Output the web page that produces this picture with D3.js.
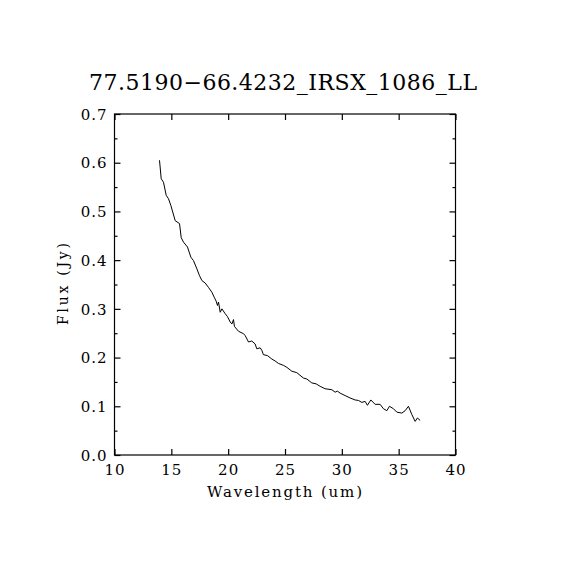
<!DOCTYPE html>
<html>
<head>
<meta charset="utf-8">
<script src="https://cdn.jsdelivr.net/npm/d3@7"></script>
<style>
  html, body { margin: 0; padding: 0; background: #fff; }
  svg { display: block; }
  text { font-family: "DejaVu Serif", "Liberation Serif", serif; fill: #000; }
</style>
</head>
<body>
<svg id="chart" width="570" height="570"></svg>
<script>
const title = "77.5190\u221266.4232_IRSX_1086_LL";
const xLabel = "Wavelength (um)";
const yLabel = "Flux (Jy)";
const xTicks = [10, 15, 20, 25, 30, 35, 40];
const yTicks = [0.0, 0.1, 0.2, 0.3, 0.4, 0.5, 0.6, 0.7];
const yMinorTicks = [0.05, 0.15, 0.25, 0.35, 0.45, 0.55, 0.65];

const wavelength = [13.96, 14.11, 14.31, 14.55, 14.75, 14.96, 15.34, 15.72, 15.87, 16.07,
  16.42, 16.72, 16.95, 17.25, 17.48, 17.69, 17.98, 18.27, 18.57, 18.77,
  18.94, 19.06, 19.15, 19.30, 19.45, 19.74, 19.94, 20.18, 20.33, 20.47,
  20.55, 20.91, 21.35, 21.50, 21.79, 22.08, 22.37, 22.52, 22.81, 22.96,
  23.10, 23.46, 23.84, 24.13, 24.42, 24.86, 25.16, 25.60, 26.04, 26.62,
  26.92, 27.36, 27.74, 28.09, 28.53, 29.12, 29.41, 29.61, 29.85, 30.29,
  30.73, 31.17, 31.46, 31.76, 32.05, 32.25, 32.55, 32.93, 33.37, 33.66,
  33.96, 34.19, 34.54, 34.84, 35.28, 35.57, 35.86, 36.16, 36.45, 36.65, 36.89];
const flux = [0.605, 0.567, 0.560, 0.533, 0.526, 0.512, 0.481, 0.475, 0.446, 0.437,
  0.427, 0.406, 0.399, 0.382, 0.368, 0.358, 0.353, 0.344, 0.334, 0.324,
  0.316, 0.307, 0.314, 0.293, 0.300, 0.290, 0.284, 0.273, 0.269, 0.278,
  0.264, 0.254, 0.249, 0.245, 0.232, 0.234, 0.228, 0.218, 0.220, 0.215,
  0.206, 0.204, 0.197, 0.193, 0.188, 0.184, 0.180, 0.172, 0.169, 0.158,
  0.156, 0.148, 0.146, 0.141, 0.136, 0.134, 0.129, 0.131, 0.127, 0.122,
  0.117, 0.113, 0.112, 0.108, 0.110, 0.102, 0.113, 0.104, 0.104, 0.095,
  0.091, 0.100, 0.095, 0.088, 0.086, 0.091, 0.100, 0.083, 0.069, 0.076, 0.071];

const L = 114.5, R = 455.5, T = 114, B = 455;
const svg = d3.select("#chart");
const x = d3.scaleLinear().domain([10, 40]).range([L, R]);
const y = d3.scaleLinear().domain([0, 0.7]).range([B, T]);

const g = svg.append("g");

// frame
g.append("rect").attr("x", L).attr("y", T).attr("width", R - L).attr("height", B - T)
  .attr("fill", "none").attr("stroke", "#000").attr("stroke-width", 1.2);

// axes (ticks inward)
const xb = g.append("g").attr("transform", `translate(0,${B})`)
  .call(d3.axisBottom(x).tickValues(xTicks).tickSize(-6).tickPadding(15).tickFormat(d3.format("d")));
const xt = g.append("g").attr("transform", `translate(0,${T})`)
  .call(d3.axisTop(x).tickValues(xTicks).tickSize(-6).tickFormat(""));
const yl = g.append("g").attr("transform", `translate(${L},0)`)
  .call(d3.axisLeft(y).tickValues(yTicks).tickSize(-6).tickPadding(7).tickFormat(d3.format(".1f")));
const ylm = g.append("g").attr("transform", `translate(${L},0)`)
  .call(d3.axisLeft(y).tickValues(yMinorTicks).tickSize(-3).tickFormat(""));
const yr = g.append("g").attr("transform", `translate(${R},0)`)
  .call(d3.axisRight(y).tickValues(yTicks).tickSize(-6).tickFormat(""));
const yrm = g.append("g").attr("transform", `translate(${R},0)`)
  .call(d3.axisRight(y).tickValues(yMinorTicks).tickSize(-3).tickFormat(""));

[xb, xt, yl, ylm, yr, yrm].forEach(a => {
  a.select(".domain").remove();
  a.selectAll("line").attr("stroke", "#000").attr("stroke-width", 1.2);
  a.selectAll("text").style("font-family", '"DejaVu Serif", serif').style("font-size", "15px")
    .style("letter-spacing", "1px").attr("fill", "#000");
});
xb.selectAll("text").attr("dy", "0.35em");
yl.selectAll("text").attr("dy", "0.35em");

// line
const line = d3.line().x((d, i) => x(wavelength[i])).y((d, i) => y(flux[i]));
g.append("path").datum(flux).attr("d", line)
  .attr("fill", "none").attr("stroke", "#000").attr("stroke-width", 1);

// title
svg.append("text").attr("x", 89).attr("y", 90)
  .attr("textLength", 388).attr("lengthAdjust", "spacing")
  .style("font-size", "22px").text(title);
// axis labels
svg.append("text").attr("x", 207).attr("y", 497)
  .attr("textLength", 155).attr("lengthAdjust", "spacing")
  .style("font-size", "15px").text(xLabel);
svg.append("text").attr("transform", "translate(68,325) rotate(-90)")
  .attr("textLength", 82).attr("lengthAdjust", "spacing")
  .style("font-size", "14px").text(yLabel);
</script>
</body>
</html>
